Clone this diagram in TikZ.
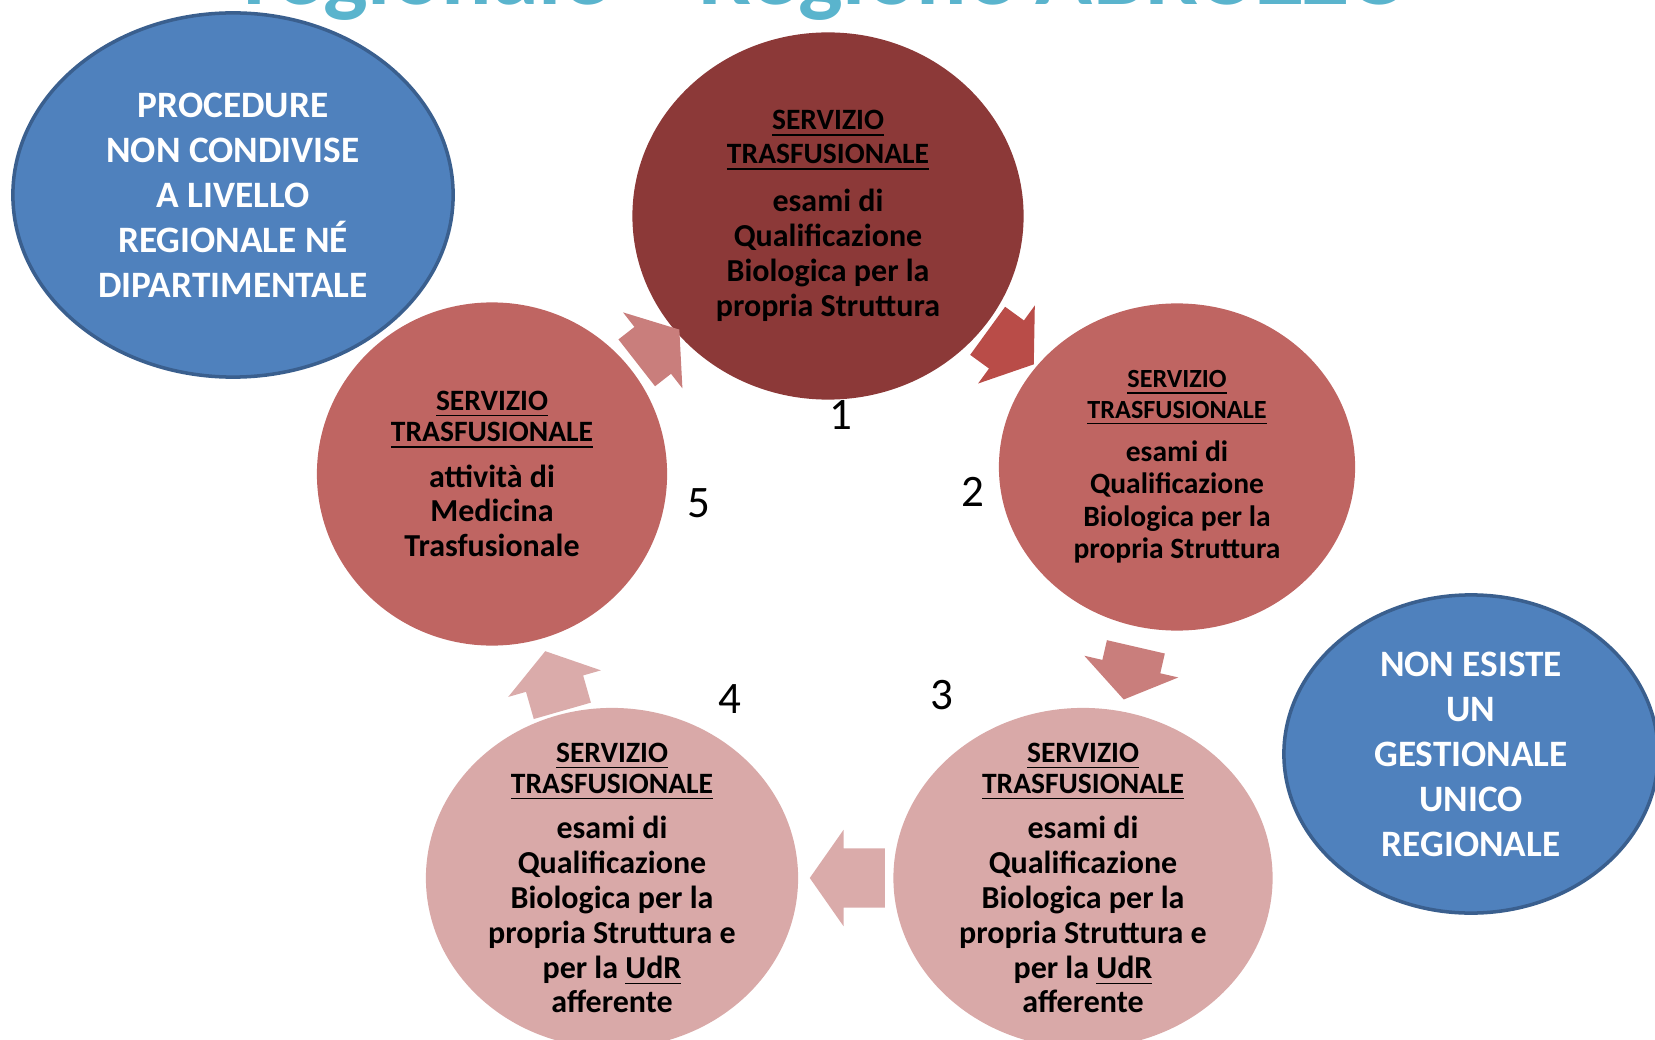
\documentclass[tikz,border=0pt]{standalone}
\usepackage{fontspec}
\setmainfont{Carlito}
\usetikzlibrary{shapes.geometric,shapes.arrows,calc}

\definecolor{noteFill}{HTML}{4F81BD}
\definecolor{noteLine}{HTML}{3A5F8E}
\definecolor{stepDark}{HTML}{8C3938}
\definecolor{stepMid}{HTML}{BF6562}
\definecolor{stepLight}{HTML}{D9A9A8}
\definecolor{arrowRed}{HTML}{B94C48}
\definecolor{arrowMid}{HTML}{C97E7C}
\definecolor{arrowLight}{HTML}{DAABAA}
\definecolor{titleBlue}{HTML}{5AB4CD}

\newcommand{\hd}[1]{{\fontsize{8.4}{9}\selectfont\underline{#1}}}
\newcommand{\hdsmall}[1]{{\fontsize{7.45}{8.4}\selectfont\underline{#1}}}

\begin{document}
\begin{tikzpicture}[x=0.01cm,y=-0.01cm]
	\tikzstyle{every node}+=[inner sep=0pt]
	\tikzstyle{bubble}=[ellipse, inner sep=-3em, align=center]
	\tikzstyle{bodytext}=[font=\fontsize{9.1}{9.9}\selectfont\bfseries]
	\tikzstyle{smalltext}=[font=\fontsize{8.4}{9.2}\selectfont\bfseries]
	\tikzstyle{note}=[bubble, draw=noteLine, line width=1pt, fill=noteFill, text=white, font=\fontsize{10.6}{12.8}\selectfont\bfseries]
	\tikzstyle{blockarrow}=[single arrow, anchor=tail, inner xsep=0pt, inner ysep=0.29cm, single arrow head extend=0.185cm, single arrow tip angle=110]
	\tikzstyle{num}=[font=\fontsize{12.8}{15}\selectfont]
	\useasboundingbox (0,0) rectangle (1655,1040);
	\clip (0,0) rectangle (1655,1040);

	\node [anchor=base, text=titleBlue, font=\fontsize{26.8}{30}\selectfont\bfseries] (title) at (827,5) {regionale -- Regione ABRUZZO};

	\node [note, minimum width=4.4cm, minimum height=3.64cm] (proc) at (233,195) {PROCEDURE\\NON CONDIVISE\\A LIVELLO\\REGIONALE NÉ\\DIPARTIMENTALE};
	\node [note, minimum width=3.74cm, minimum height=3.18cm] (gest) at (1471,754) {NON ESISTE\\UN\\GESTIONALE\\UNICO\\REGIONALE};

	\node [bubble, bodytext, fill=stepDark, minimum width=3.91cm, minimum height=3.67cm] (c1) at (828,216)
		{\hd{SERVIZIO}\\[-0.3pt]\hd{TRASFUSIONALE}\\[3.8pt]esami di\\Qualificazione\\Biologica per la\\propria Struttura};
	\node [bubble, smalltext, fill=stepMid, minimum width=3.56cm, minimum height=3.27cm] (c2) at (1177,467)
		{\hdsmall{SERVIZIO}\\[-0.5pt]\hdsmall{TRASFUSIONALE}\\[3pt]esami di\\Qualificazione\\Biologica per la\\propria Struttura};
	\node [bubble, bodytext, fill=stepLight, minimum width=3.79cm, minimum height=3.4cm] (c3) at (1083,878)
		{\hd{SERVIZIO}\\[-1pt]\hd{TRASFUSIONALE}\\[3pt]esami di\\Qualificazione\\Biologica per la\\propria Struttura e\\per la \underline{UdR}\\afferente};
	\node [bubble, bodytext, fill=stepLight, minimum width=3.72cm, minimum height=3.4cm] (c4) at (612,878)
		{\hd{SERVIZIO}\\[-1pt]\hd{TRASFUSIONALE}\\[3pt]esami di\\Qualificazione\\Biologica per la\\propria Struttura e\\per la \underline{UdR}\\afferente};
	\node [bubble, bodytext, fill=stepMid, minimum width=3.5cm, minimum height=3.43cm] (c5) at (492,474)
		{\hd{SERVIZIO}\\[-1pt]\hd{TRASFUSIONALE}\\[3pt]attività di\\Medicina\\Trasfusionale};

	\node [blockarrow, fill=arrowRed, minimum height=0.57cm, rotate=-36] (a12) at ($(c1)!0.5!(c2)!0.19cm!(c1)$) {};
	\node [blockarrow, fill=arrowMid, minimum height=0.54cm, rotate=-103] (a23) at ($(c2)!0.5!(c3)!0.27cm!(c2)$) {};
	\node [blockarrow, fill=arrowLight, minimum height=0.75cm, rotate=180] (a34) at ($(c3)!0.5!(c4)!0.38cm!(c3)$) {};
	\node [blockarrow, fill=arrowLight, minimum height=0.62cm, rotate=106] (a45) at ($(c4)!0.5!(c5)!0.37cm!(c4)$) {};
	\node [blockarrow, fill=arrowMid, minimum height=0.54cm, rotate=38] (a51) at ($(c5)!0.5!(c1)!0.3cm!(c5)$) {};

	\node [num] (n1) at (841,415) {1};
	\node [num] (n2) at (973,492) {2};
	\node [num] (n3) at (942,695) {3};
	\node [num] (n4) at (730,699) {4};
	\node [num] (n5) at (699,503) {5};
\end{tikzpicture}
\end{document}
